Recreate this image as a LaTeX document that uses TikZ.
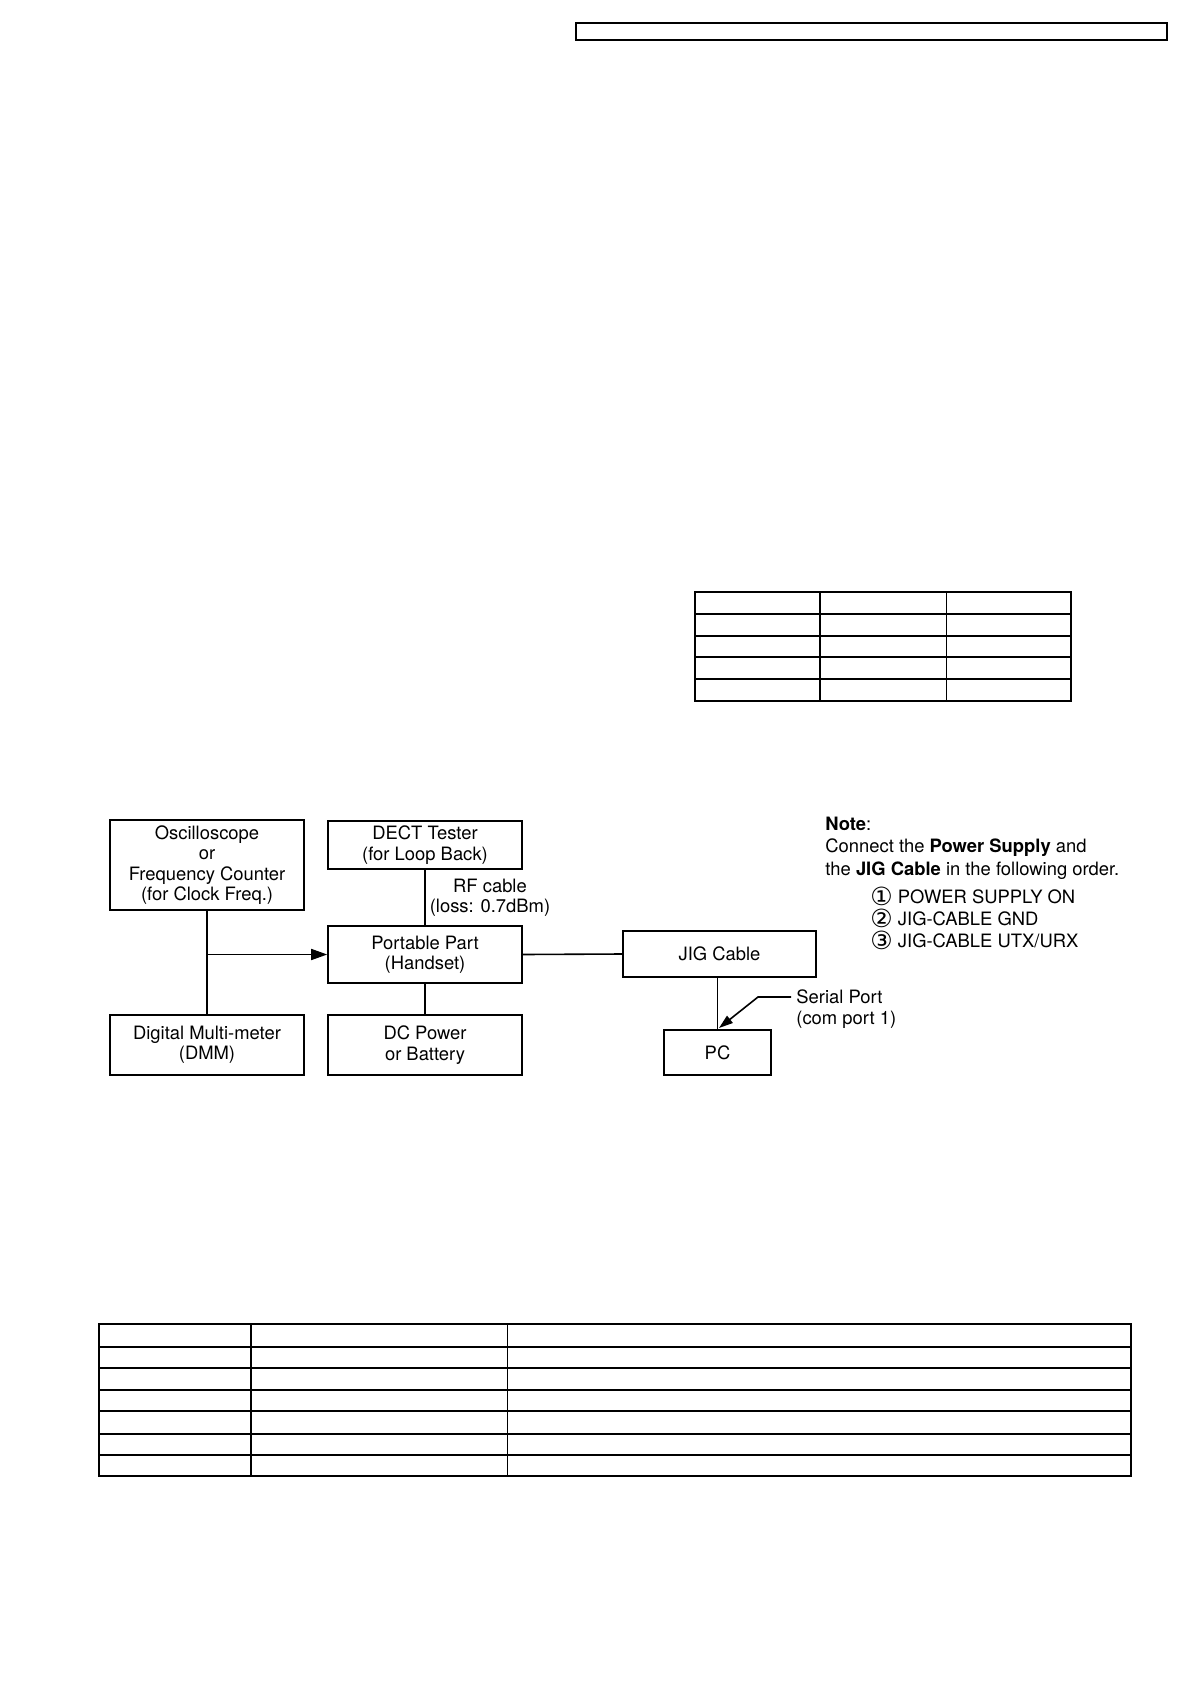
\documentclass[tikz,border=0pt]{standalone}
\usepackage{fontspec}
\setmainfont{TeX Gyre Heros}
\newfontfamily\symfont{DejaVu Sans}
\newcommand{\stepmark}[1]{\raisebox{-0.9pt}{\symfont\fontsize{12.5}{11}\selectfont #1}}
\usetikzlibrary{arrows.meta}
\begin{document}
\begin{tikzpicture}[x=0.5pt,y=-0.5pt,
  box/.style={draw, line width=0.8pt, align=center, inner sep=0pt, font=\fontsize{9.2}{10.2}\selectfont},
  link/.style={line width=0.8pt},
  label/.style={inner sep=0pt, align=left, font=\fontsize{9.2}{10.2}\selectfont},
  heavy rule/.style={line width=1.1pt},
  light rule/.style={line width=0.5pt}]
\useasboundingbox (0,0) rectangle (1190,1684);
\draw[line width=0.6pt] (576,23) rectangle (1167,40);
\draw[heavy rule] (695,592) rectangle (1071,701);
\foreach \y in {614,636,657,679} \draw[heavy rule] (695,\y) -- (1071,\y);
\draw[heavy rule] (820,592) -- (820,701);
\draw[light rule] (946,592) -- (946,701);
\node[box, minimum width=97pt, minimum height=45pt] (osc) at (207,865) {Oscilloscope\\or\\Frequency Counter\\(for Clock Freq.)};
\node[box, minimum width=97pt, minimum height=24pt] (dect) at (425,845) {DECT Tester\\(for Loop Back)};
\node[box, minimum width=97pt, minimum height=28.5pt] (pp) at (425,954.5) {Portable Part\\(Handset)};
\node[box, minimum width=97pt, minimum height=30pt] (dmm) at (207,1045) {Digital Multi-meter\\(DMM)};
\node[box, minimum width=97pt, minimum height=30pt] (dc) at (425,1045) {DC Power\\or Battery};
\node[box, minimum width=96.5pt, minimum height=23pt] (jig) at (719.5,954) {JIG Cable};
\node[box, minimum width=53.5pt, minimum height=22.5pt] (pc) at (717.5,1052.5) {PC};
\node[label, align=center] (rf) at (490,898) {RF cable\\(loss: 0.7dBm)};
\node[label, anchor=west] (serial) at (796,1009) {Serial Port\\(com port 1)};
\node[label, anchor=west, font=\fontsize{9.2}{11.3}\selectfont] (note) at (825,848) {\textbf{Note}:\\Connect the \textbf{Power Supply} and\\the \textbf{JIG Cable} in the following order.};
\node[label, anchor=west, font=\fontsize{9.2}{11}\selectfont] (order) at (870,918) {\stepmark{①} POWER SUPPLY ON\\\stepmark{②} JIG-CABLE GND\\\stepmark{③} JIG-CABLE UTX/URX};
\draw[link] (osc.south) -- (dmm.north);
\coordinate (tap) at (osc.south |- pp.west);
\draw[link, -{Triangle[length=8pt,width=5.5pt]}] (tap) -- (pp.west);
\draw[link] (dect) -- (pp);
\draw[link] (pp) -- (dc);
\draw[link] (pp.east) -- (jig.west);
\draw[link] (pc.north) -- (pc.north |- jig.south);
\coordinate (sp) at (791,997);
\coordinate (bend) at (758,997);
\coordinate (tip) at (719,1028);
\draw[link, -{Triangle[length=7pt,width=4.5pt]}] (sp) -- (bend) -- (tip);
\draw[heavy rule] (99,1324) rectangle (1131,1476);
\foreach \y in {1347,1368,1390,1411,1434,1455} \draw[heavy rule] (99,\y) -- (1131,\y);
\draw[heavy rule] (251,1324) -- (251,1476);
\draw[light rule] (507,1324) -- (507,1476);
\end{tikzpicture}
\end{document}
